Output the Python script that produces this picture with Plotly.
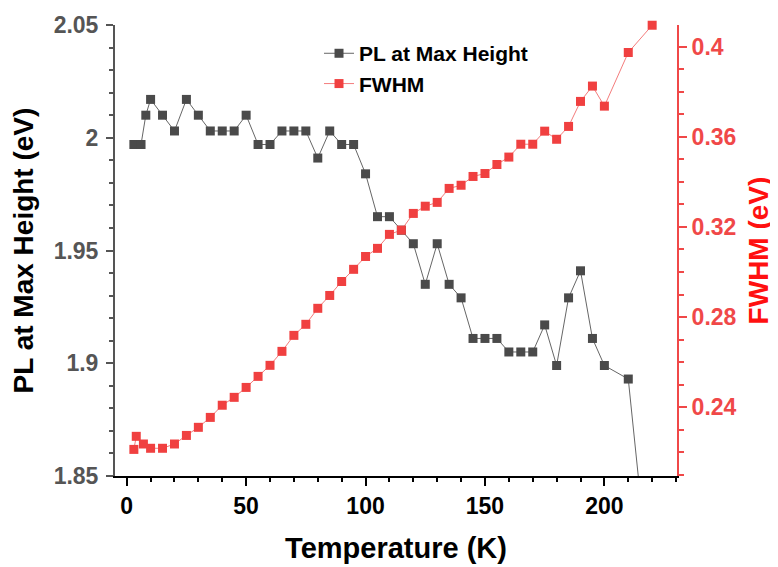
import plotly.graph_objects as go

# PL peak position vs temperature
pl_temp = [3, 6, 8, 10, 15, 20, 25, 30, 35, 40, 45, 50, 55, 60, 65, 70, 75, 80, 85, 90,
           95, 100, 105, 110, 115, 120, 125, 130, 135, 140, 145, 150, 155, 160, 165, 170,
           175, 180, 185, 190, 195, 200, 210, 220]
pl_ev = [1.997, 1.997, 2.010, 2.017, 2.010, 2.003, 2.017, 2.010, 2.003, 2.003, 2.003, 2.010,
         1.997, 1.997, 2.003, 2.003, 2.003, 1.991, 2.003, 1.997, 1.997, 1.984, 1.965, 1.965,
         1.959, 1.953, 1.935, 1.953, 1.935, 1.929, 1.911, 1.911, 1.911, 1.905, 1.905, 1.905,
         1.917, 1.899, 1.929, 1.941, 1.911, 1.899, 1.893, 1.790]

# FWHM vs temperature
fwhm_temp = [3, 4, 7, 10, 15, 20, 25, 30, 35, 40, 45, 50, 55, 60, 65, 70, 75, 80, 85, 90,
             95, 100, 105, 110, 115, 120, 125, 130, 135, 140, 145, 150, 155, 160, 165, 170,
             175, 180, 185, 190, 195, 200, 210, 220]
fwhm_ev = [0.2213, 0.2271, 0.2237, 0.2218, 0.2218, 0.2237, 0.2275, 0.2311, 0.2355, 0.2409,
           0.2444, 0.2488, 0.2537, 0.2586, 0.2648, 0.2719, 0.2768, 0.2839, 0.2896, 0.2958,
           0.3012, 0.3069, 0.3105, 0.3167, 0.3186, 0.3260, 0.3292, 0.3309, 0.3371, 0.3385,
           0.3424, 0.3437, 0.3477, 0.3510, 0.3567, 0.3567, 0.3625, 0.3589, 0.3646, 0.3757,
           0.3825, 0.3736, 0.3974, 0.4095]

FONT = 'Liberation Sans, Arial, sans-serif'
GRAY = '#555555'
RED_TICK = '#f04848'
x_range = [-4.9, 230.4]

fig = go.Figure()
fig.add_trace(go.Scatter(
    x=pl_temp, y=pl_ev, mode='lines+markers', name='PL at Max Height',
    line=dict(color='#666666', width=1),
    marker=dict(symbol='square', size=9, color='#4a4a4a'),
))
fig.add_trace(go.Scatter(
    x=fwhm_temp, y=fwhm_ev, mode='lines+markers', name='FWHM', yaxis='y2',
    line=dict(color='#f47c7c', width=1),
    marker=dict(symbol='square', size=9, color='#f04040'),
    cliponaxis=False,
))

# page body has an 8px margin, so the figure is sized 8px smaller
fig.update_layout(
    width=770, height=559,
    margin=dict(l=107, r=101, t=17, b=91),
    paper_bgcolor='white', plot_bgcolor='white',
    font=dict(family=FONT, weight='bold', color='black'),
    showlegend=True,
    legend=dict(x=0.363, y=0.982, xanchor='left', yanchor='top',
                bgcolor='rgba(0,0,0,0)', font=dict(size=21, family=FONT, weight='bold'),
                tracegroupgap=0),
    xaxis=dict(
        range=x_range, showgrid=False, zeroline=False, automargin=False,
        showline=True, linecolor='black', linewidth=2,
        ticks='outside', ticklen=8, tickwidth=2, tickcolor='black',
        tick0=0, dtick=50,
        minor=dict(ticks='outside', ticklen=4, tickwidth=2, tickcolor='black', dtick=10, tick0=0),
        tickfont=dict(size=23, color='black', family=FONT, weight='bold'),
        title=dict(text='Temperature (K)', font=dict(size=29, family=FONT, weight='bold'), standoff=20),
    ),
    xaxis3=dict(
        range=x_range, overlaying='x', side='top', anchor='y', automargin=False,
        showgrid=False, zeroline=False, showticklabels=False,
        showline=True, linecolor='black', linewidth=2,
        ticks='inside', ticklen=8, tickwidth=2, tickcolor='black',
        tick0=0, dtick=50,
        minor=dict(ticks='inside', ticklen=5, tickwidth=2, tickcolor='black', dtick=10, tick0=0),
    ),
    yaxis=dict(
        range=[1.85, 2.05], showgrid=False, zeroline=False, automargin=False,
        showline=True, linecolor=GRAY, linewidth=2,
        ticks='outside', ticklen=7, tickwidth=2, tickcolor=GRAY,
        tick0=1.85, dtick=0.05,
        minor=dict(ticks='outside', ticklen=4, tickwidth=2, tickcolor=GRAY, dtick=0.01, tick0=1.85),
        tickfont=dict(size=23, color=GRAY, family=FONT, weight='bold'),
        ticklabelstandoff=3,
        title=dict(text='PL at Max Height (eV)', font=dict(size=28, family=FONT, weight='bold'), standoff=15),
    ),
    yaxis2=dict(
        range=[0.2095, 0.4096], overlaying='y', side='right', anchor='x', automargin=False,
        showgrid=False, zeroline=False,
        showline=True, linecolor=RED_TICK, linewidth=2,
        ticks='outside', ticklen=8, tickwidth=2, tickcolor=RED_TICK,
        tick0=0, dtick=0.04,
        minor=dict(ticks='outside', ticklen=5, tickwidth=2, tickcolor=RED_TICK, dtick=0.01, tick0=0),
        tickfont=dict(size=23, color=RED_TICK, family=FONT, weight='bold'),
        title=dict(text='FWHM (eV)', font=dict(size=28, color='#ff1010', family=FONT, weight='bold'), standoff=13),
    ),
)

fig.write_html('out.html')
